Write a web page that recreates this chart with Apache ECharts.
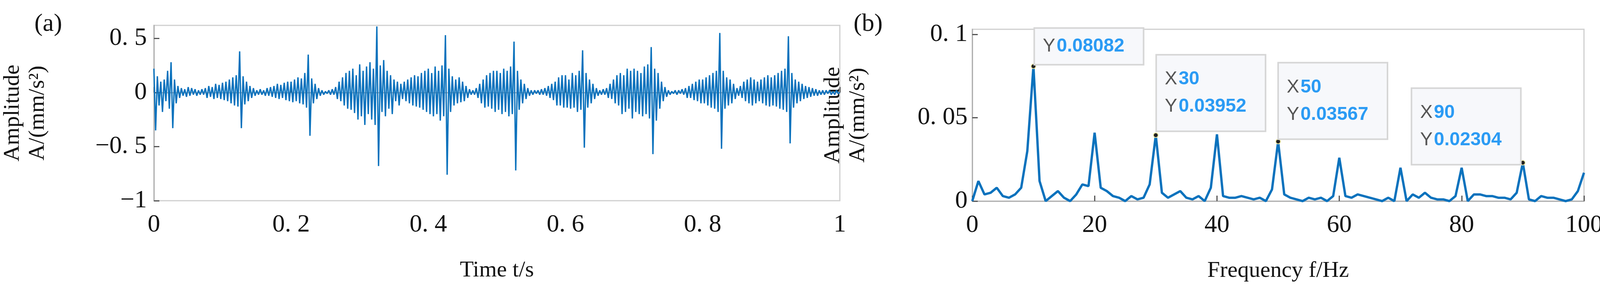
<!DOCTYPE html>
<html><head><meta charset="utf-8">
<script src="https://cdn.jsdelivr.net/npm/echarts@6/dist/echarts.min.js"></script>
<style>html,body{margin:0;padding:0;background:#fff}#c{width:4106px;height:735px}</style>
</head><body><div id="c"></div>
<script>
// time signal, sampled every 0.0025 s (10 periods x 40 samples + final)
const sampleStep = 0.0025;
const timeValues = [
0.22,-0.35,0.15,-0.12,0.1,-0.18,0.12,-0.08,0.2,-0.15,0.28,-0.33,0.12,-0.1,0.06,-0.05,0.04,-0.03,0.03,-0.04,0.05,-0.03,0.04,-0.02,0.03,-0.03,0.02,-0.02,0.03,-0.02,0.04,-0.05,0.06,-0.04,0.05,-0.06,0.08,-0.05,0.07,-0.06,
0.09,-0.07,0.1,-0.08,0.12,-0.1,0.14,-0.12,0.16,-0.13,0.38,-0.33,0.15,-0.11,0.1,-0.08,0.06,-0.05,0.04,-0.03,0.02,-0.02,0.03,-0.02,0.02,-0.03,0.04,-0.03,0.05,-0.04,0.06,-0.05,0.08,-0.06,0.07,-0.05,0.09,-0.07,0.1,-0.08,
0.1,-0.09,0.12,-0.08,0.14,-0.1,0.13,-0.11,0.18,-0.14,0.35,-0.40,0.13,-0.1,0.08,-0.06,0.04,-0.03,0.02,-0.02,0.01,-0.01,0.02,-0.02,0.03,-0.02,0.05,-0.06,0.1,-0.08,0.14,-0.12,0.18,-0.15,0.2,-0.16,0.22,-0.19,0.16,-0.25,
0.26,-0.22,0.2,-0.3,0.24,-0.2,0.28,-0.25,0.22,-0.3,0.61,-0.68,0.25,-0.18,0.3,-0.22,0.2,-0.15,0.16,-0.2,0.12,-0.08,0.1,-0.12,0.08,-0.06,0.1,-0.08,0.12,-0.1,0.14,-0.12,0.16,-0.13,0.15,-0.14,0.18,-0.16,0.2,-0.18,
0.22,-0.2,0.18,-0.22,0.24,-0.2,0.2,-0.26,0.25,-0.22,0.53,-0.76,0.22,-0.18,0.15,-0.12,0.12,-0.1,0.14,-0.09,0.1,-0.08,0.06,-0.05,0.03,-0.02,0.02,-0.02,0.04,-0.05,0.08,-0.1,0.12,-0.14,0.16,-0.13,0.18,-0.15,0.2,-0.18,
0.2,-0.16,0.18,-0.2,0.22,-0.18,0.2,-0.22,0.24,-0.2,0.47,-0.72,0.2,-0.16,0.12,-0.1,0.08,-0.06,0.04,-0.03,0.02,-0.02,0.02,-0.01,0.02,-0.02,0.03,-0.02,0.04,-0.03,0.06,-0.05,0.08,-0.07,0.1,-0.12,0.14,-0.12,0.16,-0.14,
0.16,-0.14,0.12,-0.15,0.18,-0.14,0.16,-0.18,0.2,-0.16,0.39,-0.51,0.18,-0.14,0.12,-0.1,0.08,-0.06,0.04,-0.03,0.02,-0.02,0.03,-0.02,0.04,-0.05,0.08,-0.06,0.12,-0.1,0.16,-0.12,0.18,-0.2,0.16,-0.18,0.22,-0.15,0.2,-0.24,
0.22,-0.18,0.2,-0.2,0.18,-0.22,0.24,-0.2,0.26,-0.24,0.42,-0.57,0.22,-0.26,0.18,-0.15,0.1,-0.08,0.05,-0.04,0.02,-0.02,0.01,-0.01,0.02,-0.02,0.02,-0.01,0.03,-0.02,0.04,-0.05,0.06,-0.05,0.08,-0.07,0.1,-0.08,0.12,-0.1,
0.12,-0.1,0.14,-0.12,0.16,-0.14,0.18,-0.15,0.2,-0.18,0.55,-0.52,0.2,-0.15,0.14,-0.12,0.12,-0.1,0.08,-0.06,0.04,-0.03,0.06,-0.05,0.1,-0.08,0.12,-0.1,0.14,-0.12,0.12,-0.1,0.1,-0.08,0.12,-0.1,0.14,-0.12,0.16,-0.13,
0.14,-0.12,0.16,-0.13,0.18,-0.15,0.2,-0.16,0.22,-0.18,0.52,-0.47,0.18,-0.14,0.12,-0.1,0.1,-0.08,0.08,-0.06,0.06,-0.05,0.05,-0.04,0.04,-0.03,0.03,-0.03,0.02,-0.02,0.02,-0.02,0.02,-0.01,0.02,-0.02,0.01,-0.02,0.02,-0.01,
0.0];
// spectrum at 1 Hz resolution, 0..100 Hz
const freqs = Array.from({length:101},(_,i)=>i);
const spectrum = [0,0.012,0.004,0.005,0.008,0.003,0.002,0.004,0.008,0.03,0.0808,0.012,0.0,0.003,0.006,0.002,0.0,0.004,0.01,0.009,
0.041,0.008,0.006,0.003,0.002,0.0,0.003,0.001,0.002,0.01,0.0395,0.005,0.002,0.004,0.006,0.002,0.001,0.003,0.0,0.008,
0.04,0.003,0.002,0.002,0.003,0.002,0.001,0.002,0.0,0.007,0.0357,0.004,0.002,0.001,0.0,0.002,0.001,0.002,0.0,0.003,
0.026,0.003,0.002,0.004,0.003,0.002,0.001,0,0.002,0.0,0.02,0.0,0.004,0.002,0.005,0.002,0.001,0.001,0.0,0.003,
0.02,0.0,0.004,0.004,0.003,0.003,0.002,0.002,0.001,0.005,0.0230,0.001,0.0,0.003,0.002,0.002,0.001,0.0,0.001,0.006,0.017];
const markFreqs = [10,30,50,90];
const markTexts = [['Y','0.08082'],['X','30','Y','0.03952'],['X','50','Y','0.03567'],['X','90','Y','0.02304']];
const labelOffsets = [[11,-89],[10,-197],[9,-193],[-276,-182]];

const serif = '"Liberation Serif","DejaVu Serif",serif';
const sans = '"Liberation Sans Narrow","Liberation Sans",sans-serif';
const blue = '#0b72bd';
function fmt(v){ if(v===0) return '0'; let s=String(Math.round(v*1000)/1000); s=s.replace('-','−'); return s.replace('.', '. '); }
const axisCommon = {
  axisLine:{show:true,lineStyle:{color:'#b0b0b0',width:3}},
  axisTick:{show:true,inside:true,length:14,lineStyle:{color:'#555',width:3}},
  splitLine:{show:false},
  axisLabel:{fontFamily:serif,fontSize:64,color:'#111'}
};
const chart = echarts.init(document.getElementById('c'));
const timeData = timeValues.map((v,i)=>[i*sampleStep,v]);
const specData = freqs.map((f,i)=>[f,spectrum[i]]);
function boxLabel(i){
  const t = markTexts[i];
  let lines=[];
  for(let k=0;k<t.length;k+=2) lines.push('{k|'+t[k]+'} {v|'+t[k+1]+'}');
  return {
    show:true, position:labelOffsets[i], align:'left', verticalAlign:'top',
    formatter: lines.join('\n'),
    backgroundColor:'#f7f8fb', borderColor:'#d6d6d6', borderWidth:4,
    padding:[t.length>2?26:10,20,t.length>2?26:10,20],
    width:236, lineHeight:70,
    rich:{k:{fontFamily:sans,fontSize:48,color:'#555'},
          v:{fontFamily:sans,fontSize:48,fontWeight:'bold',color:'#2b9bf4'}}
  };
}
chart.setOption({
  animation:false,
  grid:[{left:391,right:4106-2150,top:65,bottom:735-514,show:true,borderColor:'#cfcfcf',borderWidth:3},
        {left:2489,right:4106-4066,top:75,bottom:735-515,show:true,borderColor:'#cfcfcf',borderWidth:3}],
  xAxis:[
    Object.assign({},axisCommon,{gridIndex:0,type:'value',min:0,max:1,interval:0.2,
      axisLabel:Object.assign({},axisCommon.axisLabel,{margin:30,formatter:fmt}),
      name:'Time t/s',nameLocation:'middle',nameGap:150,nameTextStyle:{fontFamily:serif,fontSize:58,color:'#111'}}),
    Object.assign({},axisCommon,{gridIndex:1,type:'value',min:0,max:100,interval:20,
      axisLabel:Object.assign({},axisCommon.axisLabel,{margin:30}),
      name:'Frequency f/Hz',nameLocation:'middle',nameGap:150,nameTextStyle:{fontFamily:serif,fontSize:58,color:'#111'}})
  ],
  yAxis:[
    Object.assign({},axisCommon,{gridIndex:0,type:'value',min:-1,max:0.62,interval:0.5,
      axisLabel:Object.assign({},axisCommon.axisLabel,{margin:18,formatter:fmt,showMaxLabel:false}),
      name:'Amplitude\nA/(mm/s²)',nameLocation:'middle',nameGap:265,nameRotate:90,
      nameTextStyle:{fontFamily:serif,fontSize:58,color:'#111',lineHeight:64}}),
    Object.assign({},axisCommon,{gridIndex:1,type:'value',min:0,max:0.103,interval:0.05,
      axisLabel:Object.assign({},axisCommon.axisLabel,{margin:12,formatter:fmt,showMaxLabel:false}),
      name:'Amplitude\nA/(mm/s²)',nameLocation:'middle',nameGap:260,nameRotate:90,
      nameTextStyle:{fontFamily:serif,fontSize:58,color:'#111',lineHeight:64}})
  ],
  graphic:[
    {type:'text',left:88,top:30,style:{text:'(a)',font:'64px '+serif,fill:'#111'}},
    {type:'text',left:2185,top:30,style:{text:'(b)',font:'64px '+serif,fill:'#111'}}
  ],
  series:[
    {type:'line',xAxisIndex:0,yAxisIndex:0,data:timeData,showSymbol:false,lineStyle:{color:blue,width:3.5},silent:true},
    {type:'line',xAxisIndex:1,yAxisIndex:1,data:specData,showSymbol:false,lineStyle:{color:blue,width:6},
     markPoint:{symbol:'circle',symbolSize:12,itemStyle:{color:'#222',borderColor:'#eee8a0',borderWidth:2},
       data:markFreqs.map((f,i)=>({coord:[f,spectrum[f]],label:boxLabel(i)}))}}
  ]
});
</script></body></html>
